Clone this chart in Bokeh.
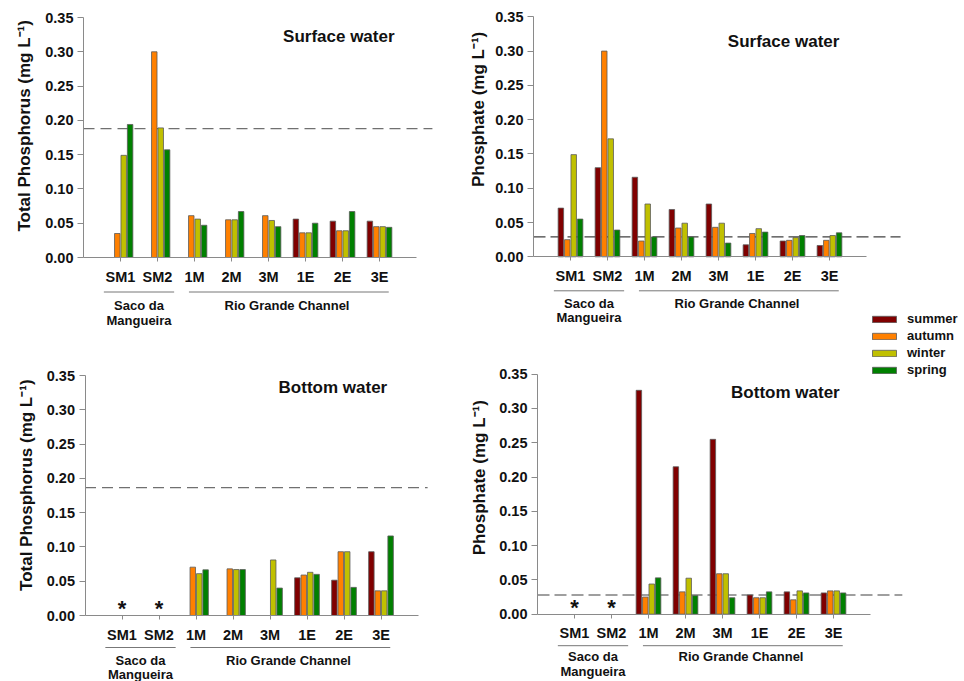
from math import pi
from bokeh.plotting import figure
from bokeh.models import (Range1d, LinearAxis, FixedTicker, PrintfTickFormatter,
                          Legend, LegendItem)
from bokeh.core.properties import value
from bokeh.embed import file_html
from bokeh.resources import INLINE

# ---------------- data ----------------
categories = ["SM1", "SM2", "1M", "2M", "3M", "1E", "2E", "3E"]
seasons = ["summer", "autumn", "winter", "spring"]
season_colors = ["#800000", "#FF8000", "#C0C000", "#008000"]
y_ticks = [0.00, 0.05, 0.10, 0.15, 0.20, 0.25, 0.30, 0.35]

group_names = ["Saco da\nMangueira", "Rio Grande Channel"]
group_members = [["SM1", "SM2"], ["1M", "2M", "3M", "1E", "2E", "3E"]]

# Total phosphorus, surface water
tp_surf_summer = [None, None, None, None, None, 0.056, 0.053, 0.053]
tp_surf_autumn = [0.035, 0.300, 0.061, 0.055, 0.061, 0.036, 0.039, 0.045]
tp_surf_winter = [0.149, 0.189, 0.056, 0.055, 0.054, 0.036, 0.039, 0.045]
tp_surf_spring = [0.194, 0.157, 0.047, 0.067, 0.045, 0.050, 0.067, 0.044]
tp_surf_ref = 0.188

# Phosphate, surface water
po4_surf_summer = [0.071, 0.130, 0.116, 0.069, 0.077, 0.0175, 0.023, 0.0165]
po4_surf_autumn = [0.025, 0.300, 0.023, 0.042, 0.043, 0.034, 0.024, 0.024]
po4_surf_winter = [0.149, 0.172, 0.077, 0.049, 0.049, 0.041, 0.028, 0.031]
po4_surf_spring = [0.055, 0.039, 0.029, 0.029, 0.020, 0.036, 0.031, 0.035]
po4_surf_ref = 0.029

# Total phosphorus, bottom water
tp_bot_summer = [None, None, None, None, None, 0.055, 0.0515, 0.093]
tp_bot_autumn = [None, None, 0.0705, 0.068, None, 0.059, 0.093, 0.036]
tp_bot_winter = [None, None, 0.061, 0.067, 0.081, 0.063, 0.093, 0.036]
tp_bot_spring = [None, None, 0.0666, 0.067, 0.040, 0.060, 0.041, 0.116]
tp_bot_ref = 0.1866

# Phosphate, bottom water
po4_bot_summer = [None, None, 0.3265, 0.215, 0.255, 0.028, 0.0326, 0.031]
po4_bot_autumn = [None, None, 0.025, 0.0326, 0.059, 0.024, 0.021, 0.034]
po4_bot_winter = [None, None, 0.044, 0.0525, 0.059, 0.024, 0.034, 0.034]
po4_bot_spring = [None, None, 0.053, 0.027, 0.024, 0.0326, 0.031, 0.031]
po4_bot_ref = 0.028

# ---------------- layout / style ----------------
W, H = 964, 681
OX, OY = 0, 0
SX = 37.0            # px per category step
SY = 240.0 / 0.35    # px per mg/L
FONT = "Liberation Sans"
AXC = "#8a8a8a"
TXT = "#111111"
BAR_W = 0.148
OFFS = [-0.26, -0.087, 0.087, 0.26]
GROUP_PAD = [(0.45, 0.45), (0.15, 0.25)]

panels = [
    dict(key="a", ax=83.0, ay=257.0,
         series=[tp_surf_summer, tp_surf_autumn, tp_surf_winter, tp_surf_spring],
         ref=tp_surf_ref, ref_end=9.43, ref_color="#707070", ref_dash="11 6",
         title="Surface water", tpos=(6.9, 0.322),
         ylabel="Total Phosphorus (mg L\u207b\u00b9)", ypos=(-1.595, 0.192),
         goff=(34.5, 47.5, 62.5)),
    dict(key="b", ax=533.0, ay=256.3,
         series=[po4_surf_summer, po4_surf_autumn, po4_surf_winter, po4_surf_spring],
         ref=po4_surf_ref, ref_end=9.92, ref_color="#404040", ref_dash="12 5",
         title="Surface water", tpos=(6.76, 0.314),
         ylabel="Phosphate (mg L\u207b\u00b9)", ypos=(-1.49, 0.215),
         goff=(34.0, 46.5, 61.0)),
    dict(key="c", ax=84.5, ay=615.0,
         series=[tp_bot_summer, tp_bot_autumn, tp_bot_winter, tp_bot_spring],
         ref=tp_bot_ref, ref_end=9.26, ref_color="#707070", ref_dash="11 6",
         title="Bottom water", tpos=(6.7, 0.3325),
         ylabel="Total Phosphorus (mg L\u207b\u00b9)", ypos=(-1.58, 0.19),
         goff=(32.0, 44.5, 58.5)),
    dict(key="d", ax=537.0, ay=613.7,
         series=[po4_bot_summer, po4_bot_autumn, po4_bot_winter, po4_bot_spring],
         ref=po4_bot_ref, ref_end=9.86, ref_color="#404040", ref_dash="12 5",
         title="Bottom water", tpos=(6.7, 0.323),
         ylabel="Phosphate (mg L\u207b\u00b9)", ypos=(-1.57, 0.199),
         goff=(31.5, 42.5, 57.5)),
]

p = figure(width=W, height=H, output_backend="svg", toolbar_location=None,
           x_axis_type=None, y_axis_type=None, min_border=0,
           outline_line_color=None, x_range=Range1d(0, 1), y_range=Range1d(0, 1))
p.background_fill_color = "white"
p.border_fill_color = "white"

xr, yr = {}, {}
for pn in panels:
    xr[pn["key"] + "x"] = Range1d(start=(OX - pn["ax"]) / SX, end=(OX + W - pn["ax"]) / SX)
    yr[pn["key"] + "y"] = Range1d(start=(pn["ay"] - (OY + H)) / SY, end=(pn["ay"] - OY) / SY)
p.extra_x_ranges = xr
p.extra_y_ranges = yr

cat_pos = {c: i + 1 for i, c in enumerate(categories)}
legend_renderers = []

for pn in panels:
    xn, yn = pn["key"] + "x", pn["key"] + "y"
    kw = dict(x_range_name=xn, y_range_name=yn)

    # reference line
    p.segment(x0=[0], y0=[pn["ref"]], x1=[pn["ref_end"]], y1=[pn["ref"]],
              line_color=pn["ref_color"], line_dash=pn["ref_dash"], line_width=1.2, **kw)

    # bars
    rends = []
    for si, (vals, col) in enumerate(zip(pn["series"], season_colors)):
        xs = [cat_pos[c] + OFFS[si] for c, v in zip(categories, vals) if v is not None]
        ts = [v for v in vals if v is not None]
        r = p.vbar(x=xs, top=ts, bottom=0, width=BAR_W, fill_color=col,
                   line_color="#5a5a5a", line_width=0.8, **kw)
        rends.append(r)
    legend_renderers = rends

    # asterisks where no data at all
    star_x = [cat_pos[c] for i, c in enumerate(categories)
              if all(s[i] is None for s in pn["series"])]
    if star_x:
        p.text(x=star_x, y=[0] * len(star_x), text=["*"] * len(star_x),
               text_font=value(FONT), text_font_style="bold", text_font_size=value("22px"),
               text_align="center", text_baseline="alphabetic", y_offset=-7,
               text_color=TXT, **kw)

    # group lines and labels
    g_line, g_t1, g_t2 = pn["goff"]
    for gname, members, (pl, pr) in zip(group_names, group_members, GROUP_PAD):
        pos = [cat_pos[m] for m in members]
        p.segment(x0=[min(pos) - pl], y0=[-g_line / SY], x1=[max(pos) + pr], y1=[-g_line / SY],
                  line_color="#777777", line_width=1, **kw)
        lines = gname.split("\n")
        for li, (line, off) in enumerate(zip(lines, (g_t1, g_t2))):
            p.text(x=[sum(pos) / len(pos)], y=[-off / SY], text=[line],
                   text_font=value(FONT), text_font_style="bold", text_font_size=value("13px"),
                   text_align="center", text_baseline="middle", text_color=TXT, **kw)

    # panel title
    p.text(x=[pn["tpos"][0]], y=[pn["tpos"][1]], text=[pn["title"]],
           text_font=value(FONT), text_font_style="bold", text_font_size=value("17px"),
           text_align="center", text_baseline="middle", text_color=TXT, **kw)

    # y-axis title
    p.text(x=[pn["ypos"][0]], y=[pn["ypos"][1]], text=[pn["ylabel"]], angle=pi / 2,
           text_font=value(FONT), text_font_style="bold", text_font_size=value("17px"),
           text_align="center", text_baseline="middle", text_color=TXT, **kw)

    # axes
    yax = LinearAxis(x_range_name=xn, y_range_name=yn, fixed_location=0,
                     bounds=(0, max(y_ticks)), ticker=FixedTicker(ticks=y_ticks),
                     formatter=PrintfTickFormatter(format="%.2f"),
                     axis_line_color=AXC, major_tick_line_color=AXC,
                     major_tick_out=6, major_tick_in=0, minor_tick_line_color=None,
                     major_label_text_font=FONT, major_label_text_font_style="bold",
                     major_label_text_font_size="14.5px", major_label_standoff=4,
                     major_label_text_color=TXT)
    p.add_layout(yax, "left")

    xax = LinearAxis(x_range_name=xn, y_range_name=yn, fixed_location=0,
                     bounds=(0, len(categories) + 1),
                     ticker=FixedTicker(ticks=[cat_pos[c] for c in categories]),
                     major_label_overrides={cat_pos[c]: c for c in categories},
                     axis_line_color=AXC, major_tick_line_color=AXC,
                     major_tick_out=4, major_tick_in=0, minor_tick_line_color=None,
                     major_label_text_font=FONT, major_label_text_font_style="bold",
                     major_label_text_font_size="14.5px", major_label_standoff=7,
                     major_label_text_color=TXT)
    p.add_layout(xax, "below")

# legend (frame == canvas, location measured from the bottom-left corner)
legend = Legend(items=[LegendItem(label=s, renderers=[r]) for s, r in zip(seasons, legend_renderers)],
                location=(869, H - 377), label_text_font=FONT, label_text_font_style="bold",
                label_text_font_size="13px", label_text_color=TXT,
                glyph_width=30, glyph_height=8, label_standoff=8, label_height=15,
                spacing=2, padding=0, margin=0, border_line_color=None,
                background_fill_alpha=0)
p.add_layout(legend)

open("out.html", "w").write(file_html(p, INLINE))
